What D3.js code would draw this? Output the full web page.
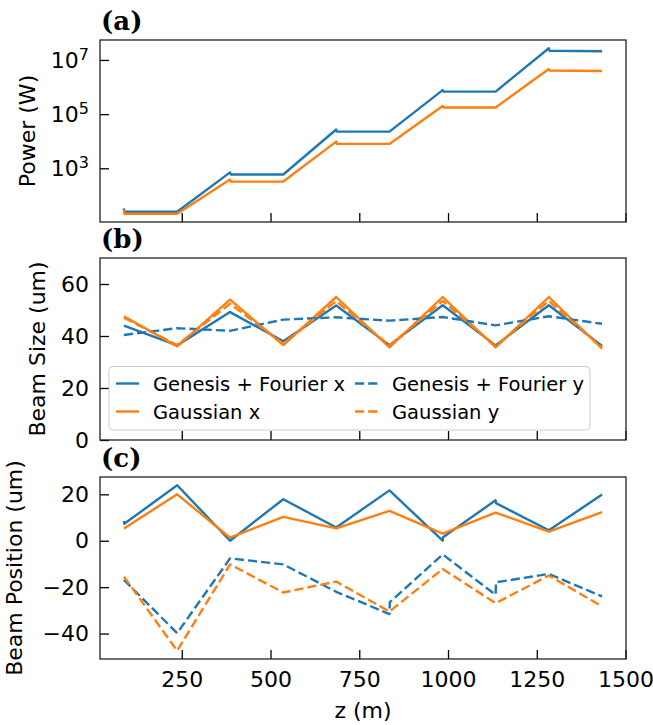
<!DOCTYPE html>
<meta charset="utf-8">
<style>
body { margin: 0; background: #fff; }
text { font-family: "DejaVu Sans", sans-serif; fill: #000; }
.tick text { font-size: 22px; font-family: "DejaVu Sans", sans-serif; fill: #000; }
.tick line { stroke: #000; stroke-width: 1.3; }
.axis-label { font-size: 22px; }
.panel-tag { font-family: "DejaVu Serif", serif; font-weight: bold; font-size: 26px; }
.legend-text { font-size: 19.5px; }
.frame { fill: none; stroke: #222; stroke-width: 1.3; }
</style>
<body>
<script src="https://d3js.org/d3.v7.min.js"></script>
<script>

var width = 653,
    height = 725;

var blue = "#1f77b4",
    orange = "#ff7f0e";

// (a) power along z
var zPower = [87, 88, 237, 386, 388, 536, 685, 687, 835, 985, 987, 1134, 1284, 1286, 1434];
var powerGenesis = [33, 25, 25, 708, 590, 590, 27000, 22500, 22500, 770000, 680000, 680000, 2.7e7, 2.2e7, 2.1e7];
var powerGaussian = [30, 21, 21, 383, 323, 323, 9660, 7950, 7950, 2.0e5, 1.75e5, 1.75e5, 4.6e6, 4.1e6, 3.9e6];
var powerTicks = [1e3, 1e5, 1e7];

// (b) beam size
var zUnd = [87, 237, 386, 536, 685, 835, 985, 1134, 1284, 1434];
var sizeGenesisX = [44, 36.4, 49.2, 38, 51.7, 36.5, 51.8, 36.4, 51.8, 36.2];
var sizeGenesisY = [40.4, 43, 42, 46.3, 47.2, 45.9, 47.3, 44.1, 47.6, 44.7];
var sizeGaussianX = [47.6, 36, 54, 36.5, 55, 35.6, 55, 35.6, 55, 35.1];
var sizeGaussianY = [47, 36.5, 52.4, 37, 53.4, 36.3, 53.5, 36, 53.5, 35.5];
var sizeTicks = [0, 20, 40, 60];

// (c) beam position
var zPosGenX = [87, 88, 237, 386, 536, 685, 835, 985, 986, 1134, 1135, 1284, 1434];
var posGenesisX = [8.5, 7.3, 23.9, 0, 17.9, 5.7, 21.7, 0, 1.5, 17.4, 16.2, 4.5, 19.9];
var posGaussianX = [5.3, 20, 1.3, 10.3, 5.3, 12.9, 3.1, 12.1, 3.9, 12.3];
var zPosGenY = [87, 237, 386, 536, 685, 835, 836, 985, 1134, 1135, 1284, 1434];
var posGenesisY = [-16.9, -39.8, -7.6, -10.2, -22, -31.6, -26.5, -5.9, -23.3, -17.9, -14.3, -24];
var posGaussianY = [-15.5, -47.4, -10.2, -22.3, -17.6, -30.5, -12.2, -26.9, -15, -28.3];
var posTicks = [-40, -20, 0, 20];

var zTicks = [250, 500, 750, 1000, 1250, 1500];

var dashed = "9.2,4";

var legendItems = [
    {label: "Genesis + Fourier x", color: blue, dash: null, col: 0, row: 0},
    {label: "Gaussian x", color: orange, dash: null, col: 0, row: 1},
    {label: "Genesis + Fourier y", color: blue, dash: dashed, col: 1, row: 0},
    {label: "Gaussian y", color: orange, dash: dashed, col: 1, row: 1}];

var left = 100, right = 626;
var panels = [
    {tag: "(a)", top: 40, bottom: 222},
    {tag: "(b)", top: 258, bottom: 440},
    {tag: "(c)", top: 477, bottom: 659}];

var svg = d3.select("body").append("svg")
    .attr("width", width)
    .attr("height", height);

// matplotlib style 5% margins
function padded(ext) {
    var w = ext[1] - ext[0];
    return [ext[0] - 0.05 * w, ext[1] + 0.05 * w];
}

var allZ = zPower.concat(zUnd, zPosGenX, zPosGenY);
var x = d3.scaleLinear()
    .domain(padded(d3.extent(allZ)))
    .range([left, right]);

var logExt = padded(d3.extent(powerGenesis.concat(powerGaussian), function(d) { return Math.log10(d); }));
var yPower = d3.scaleLog()
    .domain([Math.pow(10, logExt[0]), Math.pow(10, logExt[1])])
    .range([panels[0].bottom, panels[0].top]);

var ySize = d3.scaleLinear()
    .domain([0, 70])
    .range([panels[1].bottom, panels[1].top]);

var yPos = d3.scaleLinear()
    .domain(padded(d3.extent(posGenesisX.concat(posGaussianX, posGenesisY, posGaussianY))))
    .range([panels[2].bottom, panels[2].top]);

function drawSeries(zs, vs, y, color, dash) {
    var pts = zs.map(function(z, i) { return [z, vs[i]]; });
    var line = d3.line()
        .x(function(d) { return x(d[0]); })
        .y(function(d) { return y(d[1]); });
    svg.append("path")
        .datum(pts)
        .attr("d", line)
        .attr("fill", "none")
        .attr("stroke", color)
        .attr("stroke-width", 2.4)
        .attr("stroke-linejoin", "round")
        .attr("stroke-dasharray", dash);
}

function drawAxes(p, y, yTicks, showX) {
    var gx = svg.append("g")
        .attr("transform", "translate(0," + p.bottom + ")")
        .call(d3.axisBottom(x)
            .tickValues(zTicks)
            .tickSizeInner(-9)
            .tickSizeOuter(0)
            .tickPadding(12)
            .tickFormat(showX ? d3.format("d") : ""));
    gx.select(".domain").remove();

    var gy = svg.append("g")
        .attr("transform", "translate(" + left + ",0)")
        .call(d3.axisLeft(y)
            .tickValues(yTicks)
            .tickSizeInner(-9)
            .tickSizeOuter(0)
            .tickPadding(11));
    gy.select(".domain").remove();
    gy.selectAll(".tick text").text(function(d) { return d < 0 ? "\u2212" + Math.abs(d) : d; });
    return gy;
}

// lines
drawSeries(zPower, powerGenesis, yPower, blue, null);
drawSeries(zPower, powerGaussian, yPower, orange, null);

drawSeries(zUnd, sizeGenesisX, ySize, blue, null);
drawSeries(zUnd, sizeGaussianX, ySize, orange, null);
drawSeries(zUnd, sizeGenesisY, ySize, blue, dashed);
drawSeries(zUnd, sizeGaussianY, ySize, orange, dashed);

drawSeries(zPosGenX, posGenesisX, yPos, blue, null);
drawSeries(zUnd, posGaussianX, yPos, orange, null);
drawSeries(zPosGenY, posGenesisY, yPos, blue, dashed);
drawSeries(zUnd, posGaussianY, yPos, orange, dashed);

// axes
var gPow = svg.append("g")
    .attr("transform", "translate(0," + panels[0].bottom + ")")
    .call(d3.axisBottom(x).tickValues(zTicks).tickSizeInner(-9).tickSizeOuter(0).tickFormat(""));
gPow.select(".domain").remove();
var gPowY = svg.append("g")
    .attr("transform", "translate(" + left + ",0)")
    .call(d3.axisLeft(yPower).tickValues(powerTicks).tickSizeInner(-9).tickSizeOuter(0).tickPadding(11));
gPowY.select(".domain").remove();
gPowY.selectAll(".tick text").each(function(d) {
    var t = d3.select(this);
    t.text(null);
    t.append("tspan").text("10");
    t.append("tspan")
        .attr("dy", "-0.5em")
        .attr("font-size", "16px")
        .text(Math.round(Math.log10(d)));
});

drawAxes(panels[1], ySize, sizeTicks, false);
drawAxes(panels[2], yPos, posTicks, true);

// frames and tags
panels.forEach(function(p) {
    svg.append("rect")
        .attr("class", "frame")
        .attr("x", left)
        .attr("y", p.top)
        .attr("width", right - left)
        .attr("height", p.bottom - p.top);
    svg.append("text")
        .attr("class", "panel-tag")
        .attr("x", left + 1)
        .attr("y", p.top - 10)
        .text(p.tag);
});

// legend in (b)
var lg = svg.append("g");
lg.append("rect")
    .attr("x", 109)
    .attr("y", 366.5)
    .attr("width", 481)
    .attr("height", 63.5)
    .attr("rx", 4)
    .attr("fill", "#fff")
    .attr("fill-opacity", 0.8)
    .attr("stroke", "#cccccc")
    .attr("stroke-width", 1);
var colX = [116, 355];
var rowY = [383.5, 411.5];
lg.selectAll("g.item")
    .data(legendItems)
    .enter()
    .append("g")
    .attr("class", "item")
    .each(function(d) {
        var g = d3.select(this);
        g.append("line")
            .attr("x1", colX[d.col])
            .attr("x2", colX[d.col] + 23)
            .attr("y1", rowY[d.row])
            .attr("y2", rowY[d.row])
            .attr("stroke", d.color)
            .attr("stroke-width", 2.4)
            .attr("stroke-dasharray", d.dash);
        g.append("text")
            .attr("class", "legend-text")
            .attr("x", colX[d.col] + 37)
            .attr("y", rowY[d.row] + 7)
            .text(d.label);
    });

// axis labels
svg.append("text")
    .attr("class", "axis-label")
    .attr("text-anchor", "middle")
    .attr("x", (left + right) / 2)
    .attr("y", 718)
    .text("z (m)");

var yLabels = [
    {text: "Power (W)", x: 35, p: panels[0]},
    {text: "Beam Size (um)", x: 45, p: panels[1]},
    {text: "Beam Position (um)", x: 22, p: panels[2]}];
yLabels.forEach(function(d) {
    var cy = (d.p.top + d.p.bottom) / 2;
    svg.append("text")
        .attr("class", "axis-label")
        .attr("text-anchor", "middle")
        .attr("transform", "translate(" + d.x + "," + cy + ") rotate(-90)")
        .text(d.text);
});

</script>
